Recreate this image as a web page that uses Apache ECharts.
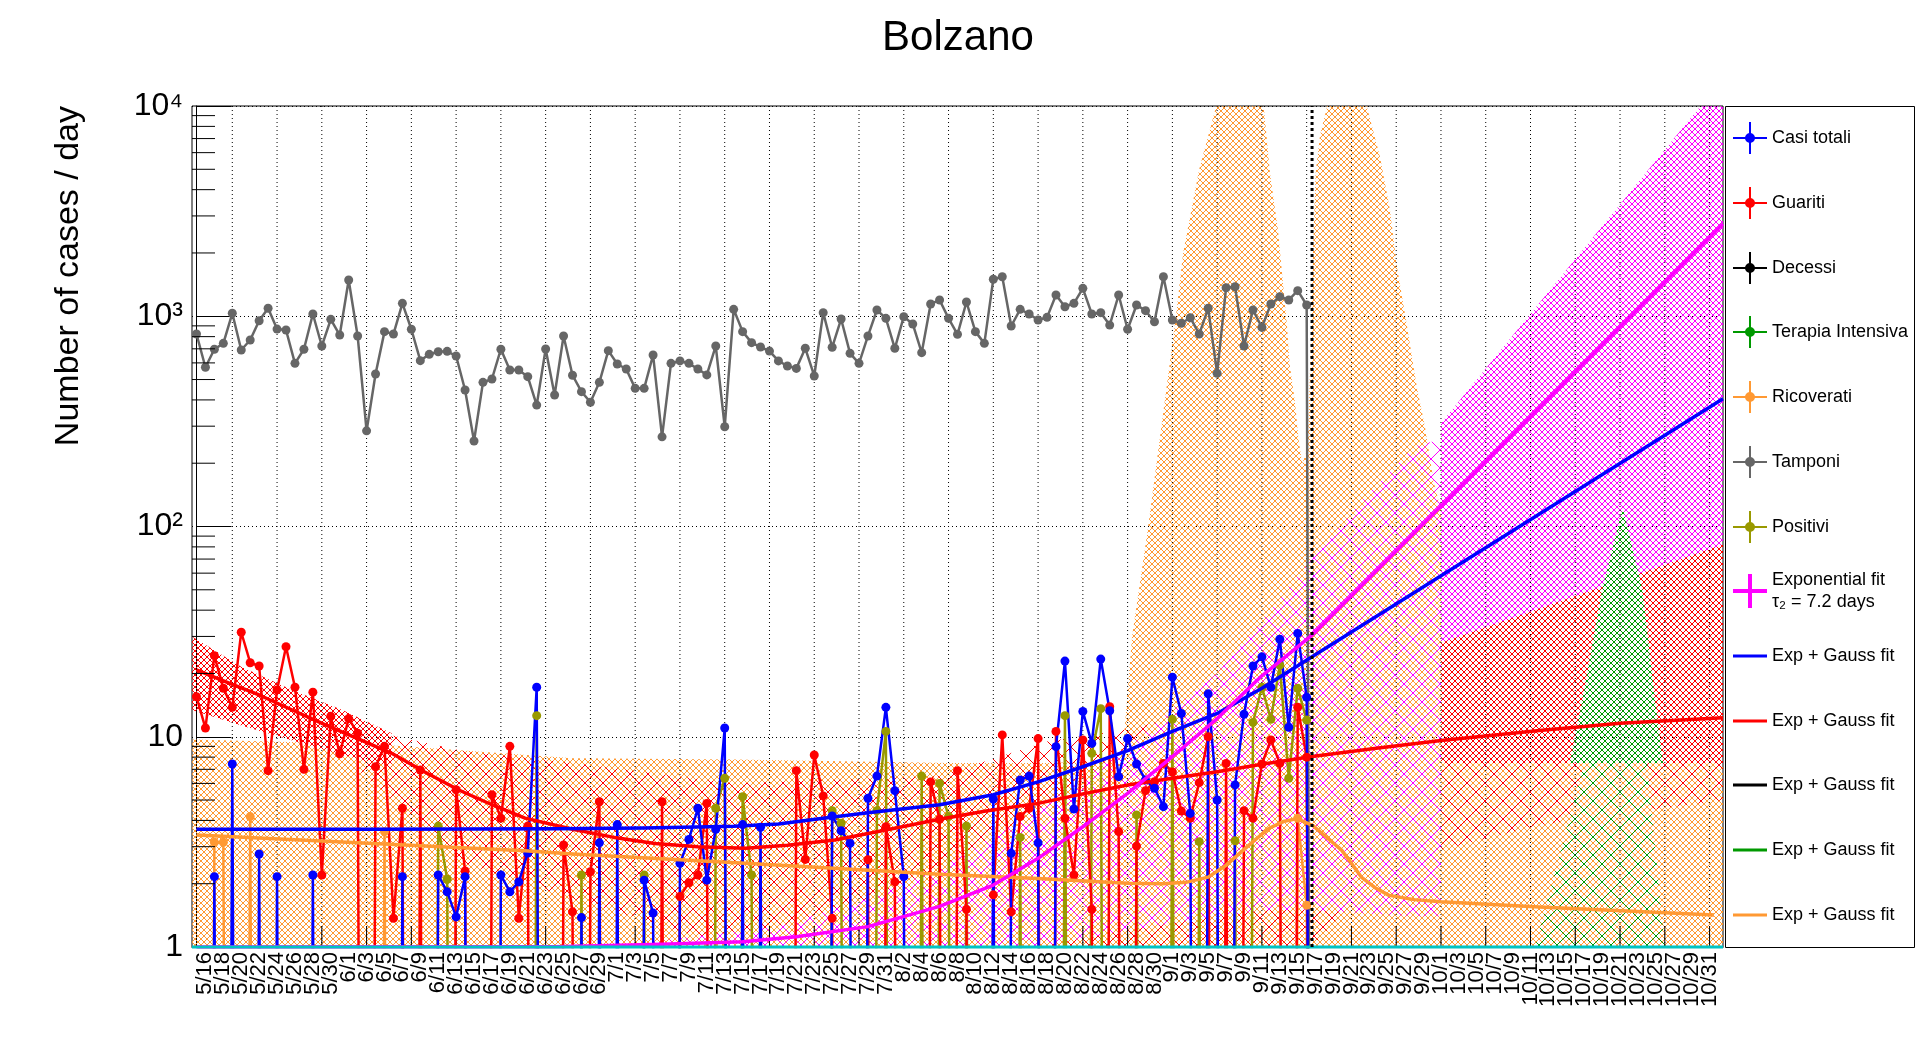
<!DOCTYPE html>
<html>
<head>
<meta charset="utf-8">
<title>Bolzano</title>
<script src="https://cdn.jsdelivr.net/npm/echarts@6/dist/echarts.min.js"></script>
<style>
  html, body { margin: 0; padding: 0; background: #fff; }
  #chart { width: 1916px; height: 1052px; }
</style>
</head>
<body>
<div id="chart"></div>
<script>
// ---------------- DATA ----------------
// x = day slot, slot 0 = 5/15 ; axis covers slots -0.5 .. 170.5 (5/15 .. 11/1)
const startMonth = 5, startDay = 15, nSlots = 171;
// y tick labels
const yTickLabels = { 0: '1', 1: '10', 2: '10\u00b2', 3: '10\u00b3', 4: '10\u2074' };

// Tamponi (tests per day), slots 0..125
const tamponi = [823,572,697,743,1033,691,771,952,1091,869,
 860,597,697,1025,722,967,814,1487,806,285,
 531,845,823,1152,867,615,659,678,681,647,
 446,255,485,503,697,555,555,516,378,699,
 422,806,524,438,390,485,686,593,561,454,
 454,654,267,597,613,597,561,526,722,298,
 1079,845,749,714,683,613,580,565,704,520,
 1040,712,970,666,597,806,1071,977,704,995,
 919,671,1143,1195,977,820,1169,845,743,1499,
 1542,899,1079,1025,960,988,1262,1110,1152,1358,
 1025,1040,908,1262,867,1131,1063,942,1542,960,
 926,984,823,1091,535,1367,1382,722,1071,885,
 1143,1239,1195,1323,1131,0];

// Casi totali (new cases per day)
const casiTotali = [0,0,2.16,0,7.42,0,0,2.77,0,2.16,
 0,0,0,2.2,0,0,0,0,0,0,
 0,0,0,2.16,0,0,0,2.2,1.83,1.39,
 2.16,0,0,0,2.2,1.83,2.04,2.8,17.2,0,
 0,0,0,1.38,0,3.13,0,3.82,0,0,
 2.08,1.45,0,0,2.5,3.25,4.57,2.08,3.63,11.0,
 0,3.82,0,3.71,0,0,0,0,0,0,
 0,4.2,3.57,3.11,0,5.1,6.5,13.8,5.54,2.16,
 0,0,0,0,0,0,0,0,0,5.06,
 0,2.79,6.23,6.5,3.13,0,8.97,22.9,4.53,13.2,
 9.3,23.4,13.3,6.46,9.8,7.42,6.23,5.69,4.65,19.2,
 12.9,4.32,0,16.0,5.0,0,5.9,12.8,21.7,24.0,
 17.2,29.1,11.1,31.0,15.4,0];

// Guariti
const guariti = [15.5,11.0,24.3,17.0,13.8,31.4,22.5,21.7,6.9,16.7,
 26.8,17.2,7.0,16.3,2.2,12.5,8.3,12.2,10.4,0,
 7.2,9.0,1.37,4.57,0,6.95,0,0,0,5.6,
 2.3,0,0,5.3,4.1,9.0,1.37,3.76,0,0,
 0,3.06,1.47,0,2.28,4.91,0,0,0,0,
 0,0,4.91,0,1.74,2.02,2.2,4.82,0,0,
 0,0,0,0,0,0,0,6.9,2.61,8.19,
 5.23,1.37,0,0,0,2.6,0,3.73,2.04,0,
 0,0,6.1,4.05,0,6.9,1.51,0,0,1.77,
 10.2,1.47,4.17,4.57,9.8,0,10.6,4.1,2.2,9.65,
 1.51,0,13.9,3.54,0,3.02,5.54,6.11,7.47,6.8,
 4.43,4.1,6.05,10.0,0,7.47,0,4.45,4.1,7.42,
 9.65,7.47,0,13.8,8.0,0];

// Positivi
const positivi = [0,0,0,0,0,0,0,0,0,0,
 0,0,0,0,0,0,0,0,0,0,
 0,0,0,0,0,0,0,3.76,2.1,0,
 0,0,0,0,0,0,0,0,12.6,0,
 0,0,0,2.2,0,0,0,0,0,0,
 2.2,0,0,0,0,0,0,0,4.57,6.35,
 0,5.19,2.2,0,0,0,0,0,0,0,
 0,4.45,3.88,0,0,0,4.45,10.6,0,0,
 0,6.5,0,6.0,4.17,0,3.76,0,0,0,
 0,0,3.32,0,0,0,0,12.6,0,0,
 8.34,13.6,0,0,0,4.25,0,0,0,12.1,
 0,0,3.17,0,0,0,3.2,0,11.7,17.2,
 12.1,21.9,6.35,17.0,12.0,0];

// Ricoverati
const ricoverati = [0,0,3.15,3.15,0,0,4.17,0,0,0,
 0,0,0,0,0,0,0,0,0,0,
 0,3.54,0,0,0,0,0,0,0,0,
 0,0,0,0,0,0,0,0,0,0,
 0,0,0,0,0,0,0,0,0,0,
 0,0,0,0,0,0,0,0,0,0,
 0,0,0,0,0,0,0,0,0,0,
 0,0,0,0,0,0,0,0,0,0,
 0,0,0,0,0,0,0,0,0,0,
 0,0,0,0,0,0,0,0,0,0,
 0,0,0,0,0,0,0,0,0,0,
 0,0,0,0,0,0,0,0,0,0,
 0,0,0,4.1,1.58,0];

// Decessi and Terapia Intensiva: no point above the axis minimum
const decessi = [];
const terapiaIntensiva = [];

// Fits (slot, value)
const casiFitX = [0,20,40,50,60,65,70,75,80,83,89,94,99,104,109,114,119,124.6,170.5];
const casiFitY = [3.63,3.63,3.65,3.68,3.75,3.85,4.1,4.35,4.6,4.75,5.3,6.1,7.2,8.6,10.6,12.9,17.0,24,405];
const guaritiFitX = [0,3.5,7,10.7,14.4,18,21.8,25.5,29.3,33,36.7,42,46.5,51.2,56,61.3,66,71.3,77,83,88,94,99,104,109,114,119,124.6,132,139,150,159,170.5];
const guaritiFitY = [20.8,18.1,15.8,13.4,11.4,9.8,8.34,6.8,5.58,4.75,4.1,3.63,3.33,3.11,3.0,2.95,3.05,3.23,3.6,4.05,4.42,4.82,5.35,5.9,6.35,6.82,7.4,8.05,8.85,9.6,10.7,11.6,12.3];
const ricoveratiFitX = [0,18,36.7,42,61.3,83,94,104,108,110.5,113,115,116.6,118.3,119.8,121.4,122.9,124.7,126.3,127.9,129,130.1,131.6,133.2,136,139,150,169.5];
const ricoveratiFitY = [3.41,3.13,2.87,2.77,2.5,2.22,2.12,2.01,2.0,2.03,2.15,2.45,2.81,3.25,3.67,3.95,4.08,3.78,3.3,2.89,2.5,2.15,1.92,1.76,1.68,1.64,1.55,1.42];
const expFitX = [0,40,52,61,67,75,83,89,94,99,104,109,114,119,124.6,170.5];
const expFitY = [1.001,1.003,1.03,1.06,1.12,1.25,1.56,1.97,2.64,3.73,5.38,8.04,12.2,19.5,30.4,2750];
const decessiFit = [];
const terapiaFit = [];

// Confidence bands (slot, upper, lower)
const ricBandX  = [-0.5,20,42,60,84,95,100,103,103.6,104.5,106.3,109.4,110.2,112,113.9,116.5,119.2,119.9,120.8,121.4,121.8,122.1,122.7,123.1,123.5,123.9,124.2,124.5,124.7,125.0,125.5,126.3,128.5,130.7,132.2,133.3,134.1,135.2,136.3,137.2,138.2,139,139.6,170.5];
const ricBandHi = [9.7,9.2,7.9,7.8,7.5,7.5,7.6,8,10,30,100,1000,2000,5000,10000,20000,10000,4800,2560,1366,900,591,389,257,200,220,300,900,2000,4800,7300,10000,20000,10000,5700,3200,1700,900,461,300,162,120,7.5,7.5];
const ricBandLo = 1;
const guaFineAX  = [-0.5,5,10.7,16.3,21.8];
const guaFineAHi = [30,21.5,16.7,13.4,10.4];
const guaFineALo = [13.4,11.3,9.6,8.2,7.2];
const guaFineBX  = [139,170.5];
const guaFineBHi = [37,82];
const guaFineBLo = [7.5,7.5];
const guaCoarseX  = [18,30,42,60,83,95,105,115,124.6,131,136,139,150,170.5];
const guaCoarseHi = [11,8.5,7.5,6.0,6.5,9.5,11,15,28,80,150,120,60,82];
const guaCoarseLo = [7,2.5,1.7,1,1,1,1,1,1,2,2.8,2.9,3.8,5];
const expCoarseX  = [50,65,75,84,94,104,114,120,124.6,130,136,139];
const expCoarseHi = [1.05,1.25,1.7,2.5,4.5,9,20,40,70,130,240,260];
const expCoarseLo = [1,1,1,1,1,1.2,1.4,1.5,1.5,1.45,1.4,1.4];
const expFineX  = [139,170.5];
const expFineHi = [310,13500];
const expFineLo = [28,82];
const terFineX  = [153.4,154.8,157,159.3,161.5,162.9,163.8];
const terFineHi = [7.5,15,50,123,50,15,7.5];
const terFineLo = 7.5;
const terCoarseX  = [149.5,155,162,164];
const terCoarseHi = [1,7.5,7.5,1];
const terCoarseLo = 1;

// last data day marker (slot)
const lastDataSlot = 124.6;
const bottomLineLevel = 1;

// ---------------- CHART ----------------
const FONT = '"Liberation Sans", Arial, Helvetica, sans-serif';
const X_MIN = -0.5, X_MAX = 170.5, Y_MIN = 1, Y_MAX = 10000;
const ZERO = 1e-9;

const cats = [];
{
  const d = new Date(2020, startMonth - 1, startDay);
  for (let i = 0; i < nSlots; i++) {
    cats.push((d.getMonth() + 1) + '/' + d.getDate());
    d.setDate(d.getDate() + 1);
  }
}
const gridSlots = [];
for (let s = 4; s <= 169; s += 5) gridSlots.push([s, 1]);
const minorVals = [];
for (let k = 0; k < 4; k++) for (let m = 2; m <= 9; m++) minorVals.push([X_MIN, m * Math.pow(10, k)]);

function hatch(color, size, lw) {
  const c = document.createElement('canvas');
  c.width = size; c.height = size;
  const g = c.getContext('2d');
  g.strokeStyle = color; g.lineWidth = lw;
  g.beginPath();
  for (let k = -1; k <= 1; k++) {
    g.moveTo(k * size, 0); g.lineTo(k * size + size, size);
    g.moveTo(size + k * size, 0); g.lineTo(k * size, size);
  }
  g.stroke();
  return { image: c, repeat: 'repeat' };
}

const C = {
  casi: '#0000ff', gua: '#ff0000', dec: '#000000', ter: '#009900',
  ric: '#ff9933', tam: '#666666', pos: '#999900', exp: '#ff00ff', cyan: '#00c4c4'
};

function dataSeries(name, vals, color, lw) {
  return {
    name, type: 'line', xAxisIndex: 1, yAxisIndex: 0,
    data: vals.map((v, i) => [i, v > 0 ? v : ZERO]),
    symbol: 'circle', symbolSize: 9, showSymbol: true, showAllSymbol: true,
    lineStyle: { color, width: lw }, itemStyle: { color, borderWidth: 0 },
    clip: true, silent: true, z: 3
  };
}
function fitSeries(name, xs, ys, color, w) {
  return {
    name, type: 'line', xAxisIndex: 1, yAxisIndex: 0,
    data: xs.map((x, i) => [x, ys[i]]),
    smooth: false, showSymbol: false, symbol: 'circle', symbolSize: 0,
    lineStyle: { color, width: w, join: 'round' }, itemStyle: { color, borderWidth: 0 },
    clip: true, silent: true, z: 4
  };
}
function bandSeries(xs, hi, lo, fill, z) {
  return {
    type: 'custom', xAxisIndex: 1, yAxisIndex: 0, clip: true, silent: true, z,
    data: [[xs[0], Array.isArray(hi) ? hi[0] : hi]],
    renderItem: (params, api) => {
      const pts = [];
      for (let i = 0; i < xs.length; i++) pts.push(api.coord([xs[i], hi[i]]));
      for (let i = xs.length - 1; i >= 0; i--) pts.push(api.coord([xs[i], Array.isArray(lo) ? lo[i] : lo]));
      return { type: 'polygon', shape: { points: pts }, style: { fill, stroke: null } };
    }
  };
}

const ICON_CROSS_DOT = 'path://M0,15h34v2H0z M16,0h2v32h-2z M22,16a5,5 0 1 1 -10,0a5,5 0 1 1 10,0z';
const ICON_CROSS = 'path://M0,15h34v4H0z M15,0h4v34h-4z';
const ICON_LINE = 'path://M0,0h34v3H0z';

const legendEntries = [
  { name: 'Casi totali', label: 'Casi totali', icon: ICON_CROSS_DOT, h: 32 },
  { name: 'Guariti', label: 'Guariti', icon: ICON_CROSS_DOT, h: 32 },
  { name: 'Decessi', label: 'Decessi', icon: ICON_CROSS_DOT, h: 32 },
  { name: 'Terapia Intensiva', label: 'Terapia Intensiva', icon: ICON_CROSS_DOT, h: 32 },
  { name: 'Ricoverati', label: 'Ricoverati', icon: ICON_CROSS_DOT, h: 32 },
  { name: 'Tamponi', label: 'Tamponi', icon: ICON_CROSS_DOT, h: 32 },
  { name: 'Positivi', label: 'Positivi', icon: ICON_CROSS_DOT, h: 32 },
  { name: 'Exponential fit', label: 'Exponential fit\n\u03c4\u2082 = 7.2 days', icon: ICON_CROSS, h: 44, ih: 34 },
  { name: 'fitCasi', label: 'Exp + Gauss fit', icon: ICON_LINE, h: 22, ih: 3 },
  { name: 'fitGuariti', label: 'Exp + Gauss fit', icon: ICON_LINE, h: 22, ih: 3 },
  { name: 'fitDecessi', label: 'Exp + Gauss fit', icon: ICON_LINE, h: 22, ih: 3 },
  { name: 'fitTerapia', label: 'Exp + Gauss fit', icon: ICON_LINE, h: 22, ih: 3 },
  { name: 'fitRicoverati', label: 'Exp + Gauss fit', icon: ICON_LINE, h: 22, ih: 3 }
];
const LEG_TOP = 106, LEG_BOTTOM = 947, LEG_LEFT = 1725, LEG_RIGHT = 1914;
const rowH = (LEG_BOTTOM - LEG_TOP) / legendEntries.length;
const legends = legendEntries.map((e, i) => ({
  data: [{ name: e.name, icon: e.icon }],
  left: LEG_LEFT + 8,
  top: Math.round(LEG_TOP + (i + 0.5) * rowH - e.h / 2),
  orient: 'vertical', padding: 0, itemGap: 0,
  itemWidth: 34, itemHeight: e.ih || 32,
  selectedMode: false,
  itemStyle: { borderWidth: 0 },
  formatter: () => e.label,
  textStyle: { fontFamily: FONT, fontSize: 18, color: '#000', lineHeight: 22 }
}));

const series = [
  // bands
  bandSeries(ricBandX, ricBandHi, ricBandLo, hatch(C.ric, 6, 1), 1),
  bandSeries(guaCoarseX, guaCoarseHi, guaCoarseLo, hatch(C.gua, 18, 1), 1),
  bandSeries(guaFineAX, guaFineAHi, guaFineALo, hatch(C.gua, 6, 1), 1),
  bandSeries(guaFineBX, guaFineBHi, guaFineBLo, hatch(C.gua, 6, 1), 1),
  bandSeries(expCoarseX, expCoarseHi, expCoarseLo, hatch(C.exp, 18, 1), 1),
  bandSeries(expFineX, expFineHi, expFineLo, hatch(C.exp, 6, 1), 1),
  bandSeries(terCoarseX, terCoarseHi, terCoarseLo, hatch(C.ter, 18, 1), 1),
  bandSeries(terFineX, terFineHi, terFineLo, hatch(C.ter, 6, 1), 1),
  // vertical grid lines + x ticks
  {
    type: 'custom', xAxisIndex: 1, yAxisIndex: 0, silent: true, z: 2, clip: false,
    data: gridSlots,
    renderItem: (params, api) => {
      const s = api.value(0);
      const b = api.coord([s, Y_MIN]), t = api.coord([s, Y_MAX]);
      return { type: 'group', children: [
        { type: 'line', shape: { x1: b[0], y1: b[1], x2: t[0], y2: t[1] }, style: { stroke: '#000', lineWidth: 1, lineDash: [1, 3] } },
        { type: 'line', shape: { x1: b[0], y1: b[1], x2: b[0], y2: b[1] - 21 }, style: { stroke: '#000', lineWidth: 1 } }
      ] };
    }
  },
  // minor y ticks
  {
    type: 'custom', xAxisIndex: 1, yAxisIndex: 0, silent: true, z: 6, clip: false,
    data: minorVals,
    renderItem: (params, api) => {
      const p = api.coord([X_MIN, api.value(1)]);
      return { type: 'line', shape: { x1: p[0], y1: p[1], x2: p[0] + 23, y2: p[1] }, style: { stroke: '#000', lineWidth: 1 } };
    }
  },
  // data
  dataSeries('Tamponi', tamponi, C.tam, 2.5),
  dataSeries('Ricoverati', ricoverati, C.ric, 2.5),
  dataSeries('Positivi', positivi, C.pos, 2.5),
  dataSeries('Guariti', guariti, C.gua, 2.5),
  dataSeries('Casi totali', casiTotali, C.casi, 2.5),
  dataSeries('Decessi', decessi, C.dec, 2.5),
  dataSeries('Terapia Intensiva', terapiaIntensiva, C.ter, 2.5),
  // fits
  fitSeries('fitRicoverati', ricoveratiFitX, ricoveratiFitY, C.ric, 3.5),
  fitSeries('fitGuariti', guaritiFitX, guaritiFitY, C.gua, 3.5),
  fitSeries('fitCasi', casiFitX, casiFitY, C.casi, 3.5),
  fitSeries('Exponential fit', expFitX, expFitY, C.exp, 3.5),
  fitSeries('fitDecessi', [], decessiFit, C.dec, 3.5),
  fitSeries('fitTerapia', [], terapiaFit, C.ter, 3.5),
  // bottom cyan line
  {
    type: 'line', xAxisIndex: 1, yAxisIndex: 0, silent: true, z: 5, clip: false,
    data: [[X_MIN, bottomLineLevel], [X_MAX, bottomLineLevel]],
    symbol: 'none', lineStyle: { color: C.cyan, width: 3 }
  },
  // last data day marker
  {
    type: 'line', xAxisIndex: 1, yAxisIndex: 0, silent: true, z: 7, clip: true,
    data: [[lastDataSlot, Y_MIN], [lastDataSlot, Y_MAX]],
    symbol: 'none', lineStyle: { color: '#000', width: 3, type: [3, 3] }
  }
];

const chart = echarts.init(document.getElementById('chart'), null, { renderer: 'canvas' });
chart.setOption({
  animation: false,
  backgroundColor: '#ffffff',
  title: {
    text: 'Bolzano', left: 'center', top: 12,
    textStyle: { fontFamily: FONT, fontSize: 42, fontWeight: 'normal', color: '#000' }
  },
  grid: { left: 192, right: 1916 - 1723, top: 106, bottom: 1052 - 947, show: true, borderColor: '#000', borderWidth: 1, backgroundColor: 'transparent' },
  xAxis: [
    {
      type: 'category', data: cats, boundaryGap: true,
      axisLine: { show: true, lineStyle: { color: '#000', width: 1 } },
      axisTick: { show: false }, splitLine: { show: false },
      axisLabel: { interval: 0, hideOverlap: false,
        formatter: (val, idx) => (idx % 2 === 1 ? val : ''),
        rotate: 90, fontSize: 22, lineHeight: 16, fontFamily: FONT, color: '#000', margin: 5 }
    },
    { type: 'value', min: X_MIN, max: X_MAX, show: false }
  ],
  yAxis: {
    type: 'log', logBase: 10, min: Y_MIN, max: Y_MAX,
    axisLine: { show: true, lineStyle: { color: '#000', width: 1 } },
    axisTick: { show: true, inside: true, length: 35, lineStyle: { color: '#000', width: 1 } },
    minorTick: { show: false },
    splitLine: { show: true, lineStyle: { color: '#000', width: 1, type: [1, 3] } },
    axisLabel: {
      fontSize: 32, fontFamily: FONT, color: '#000', margin: 9,
      formatter: (v) => yTickLabels[Math.round(Math.log10(v))]
    }
  },
  legend: legends,
  graphic: [
    {
      type: 'rect', z: -1, silent: true,
      shape: { x: LEG_LEFT + 0.5, y: LEG_TOP + 0.5, width: LEG_RIGHT - LEG_LEFT, height: LEG_BOTTOM - LEG_TOP },
      style: { fill: '#fff', stroke: '#000', lineWidth: 1 }
    },
    {
      type: 'text', x: 69, y: 106, rotation: Math.PI / 2, silent: true,
      style: { text: 'Number of cases / day', fontFamily: FONT, fontSize: 34, fill: '#000', textAlign: 'right', textVerticalAlign: 'middle' }
    }
  ],
  series
});
</script>
</body>
</html>
